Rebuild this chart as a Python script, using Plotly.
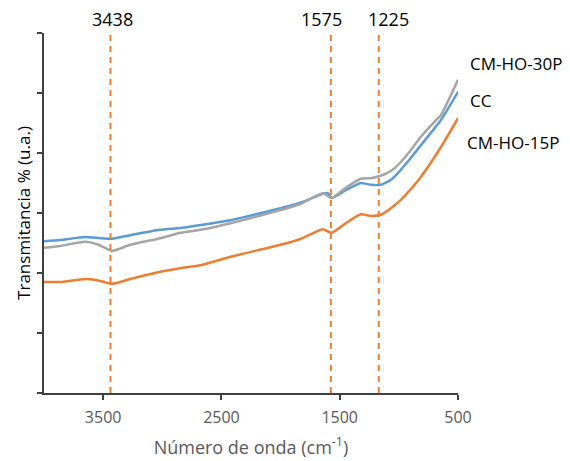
import plotly.graph_objects as go

# Wavenumbers (cm-1) and transmittance (a.u.)
wn_cc = [4000, 3864, 3653, 3525, 3424, 3271, 3017, 2847, 2678, 2424, 2000, 1830, 1644, 1600, 1568, 1449, 1322, 1237, 1153, 1068, 983, 898, 814, 644, 500]
t_cc = [2.53, 2.55, 2.60, 2.58, 2.57, 2.63, 2.72, 2.75, 2.80, 2.88, 3.08, 3.17, 3.32, 3.33, 3.25, 3.38, 3.50, 3.47, 3.47, 3.55, 3.72, 3.92, 4.13, 4.55, 5.02]

wn_30p = [4000, 3864, 3653, 3550, 3424, 3271, 3017, 2847, 2678, 2424, 2000, 1830, 1644, 1568, 1449, 1322, 1237, 1153, 1068, 983, 898, 814, 669, 644, 500]
t_30p = [2.42, 2.45, 2.52, 2.48, 2.37, 2.47, 2.58, 2.67, 2.72, 2.83, 3.05, 3.15, 3.33, 3.25, 3.42, 3.57, 3.58, 3.62, 3.70, 3.85, 4.05, 4.27, 4.58, 4.63, 5.22]

wn_15p = [4000, 3864, 3653, 3550, 3424, 3271, 3017, 2847, 2678, 2424, 2000, 1830, 1720, 1644, 1568, 1449, 1322, 1237, 1153, 1068, 983, 898, 814, 644, 500]
t_15p = [1.85, 1.85, 1.90, 1.88, 1.82, 1.90, 2.02, 2.08, 2.13, 2.27, 2.47, 2.57, 2.67, 2.73, 2.67, 2.83, 2.98, 2.95, 2.97, 3.08, 3.22, 3.40, 3.60, 4.10, 4.58]

series_names = ["CC", "CM-HO-30P", "CM-HO-15P"]
series_colors = ["#5B9BD5", "#A5A5A5", "#ED7D31"]

peak_line_x = [3438, 1575, 1170]
peak_labels = ["3438", "1575", "1225"]
peak_label_x = [3420, 1650, 1090]

x_ticks = [3500, 2500, 1500, 500]
y_ticks = [0, 1, 2, 3, 4, 5, 6]

fig = go.Figure()
for wn, t, name, col in zip([wn_cc, wn_30p, wn_15p], [t_cc, t_30p, t_15p], series_names, series_colors):
    fig.add_trace(go.Scatter(x=wn, y=t, mode="lines", name=name,
                             line=dict(color=col, width=2.5, shape="spline", smoothing=0.5)))

for px in peak_line_x:
    fig.add_shape(type="line", xref="x", yref="y", x0=px, x1=px, y0=0, y1=6,
                  line=dict(color="#ED7D31", width=2, dash="6px,5px"))

for lx, lab in zip(peak_label_x, peak_labels):
    fig.add_annotation(x=lx, y=1.0, xref="x", yref="paper", text=lab, showarrow=False,
                       yanchor="bottom", yshift=0, font=dict(size=18, color="#000000"))

label_y = [4.88, 5.5, 4.18]
label_shift = [10, 10, 7]
for name, ly, sh in zip(series_names, label_y, label_shift):
    fig.add_annotation(x=1.0, y=ly, xref="paper", yref="y", text=name, showarrow=False,
                       xanchor="left", xshift=sh,
                       font=dict(size=17, color="#000000"))

fig.update_layout(
    width=570, height=461,
    margin=dict(l=44, r=112, t=33, b=68, autoexpand=False),
    plot_bgcolor="white", paper_bgcolor="white",
    showlegend=False,
    font=dict(family="Open Sans, sans-serif"),
    xaxis=dict(range=[4000, 500], tickvals=x_ticks, ticks="outside", ticklen=5,
               tickcolor="#404040", tickwidth=1.5, ticklabelstandoff=4, automargin=False,
               showline=True, linecolor="#404040", linewidth=2, showgrid=False, zeroline=False,
               tickfont=dict(size=16, color="#595959"),
               title=dict(text="Número de onda (cm<sup>-1</sup>)", font=dict(size=18, color="#595959"), standoff=14)),
    yaxis=dict(range=[0, 6], tickvals=y_ticks, ticks="outside", ticklen=5,
               tickcolor="#404040", tickwidth=1.5, showticklabels=False, automargin=False,
               showline=True, linecolor="#404040", linewidth=2, showgrid=False, zeroline=False,
               title=dict(text="Transmitancia % (u.a.)", font=dict(size=17, color="#000000"), standoff=2)),
)

fig.write_html("out.html")
